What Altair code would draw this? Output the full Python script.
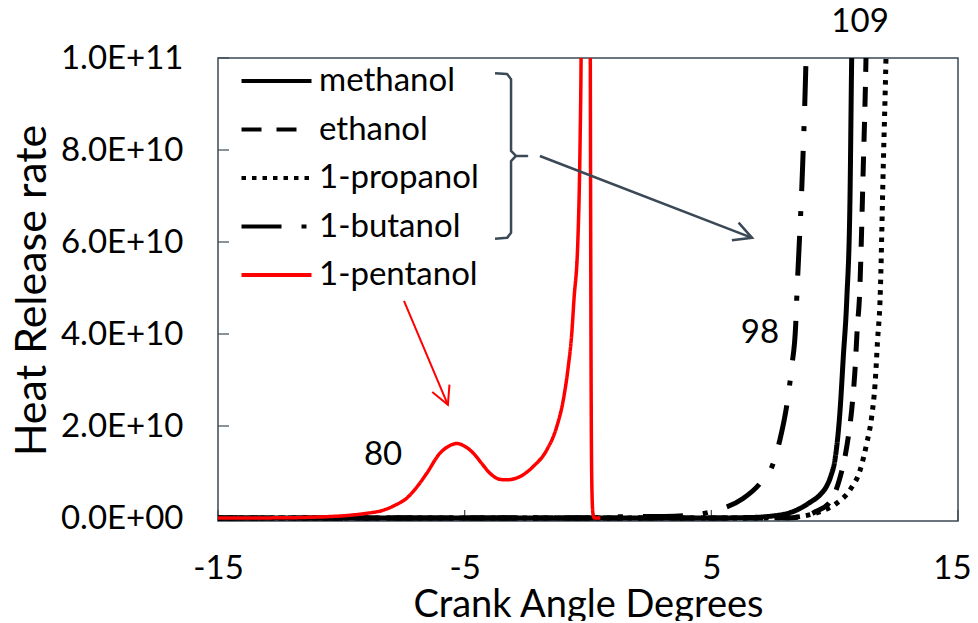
import altair as alt
import pandas as pd

FONT = "Lato"
FRAME = "#3b4856"
W, H = 740, 463

# ---------------- data ----------------
series_names = ["methanol", "ethanol", "1-propanol", "1-butanol", "1-pentanol"]
series_colors = ["#000000", "#000000", "#000000", "#000000", "#ff0000"]
series_dashes = [[1, 0], [20, 15], [4.5, 6], [40, 20, 5, 20], [1, 0]]

methanol_ca = [-15, 0, 5, 6.5, 7.24, 8.32, 8.7, 9.0, 9.4, 9.68, 9.85, 10.01, 10.22, 10.35, 10.49, 10.62, 10.69, 10.76]
methanol_hrr_e10 = [0, 0, 0, 0.01, 0.03, 0.14, 0.24, 0.34, 0.5, 0.7, 0.92, 1.26, 2.35, 3.5, 4.74, 6.9, 10.0, 12.0]

ethanol_ca = [-15, 0, 5, 8.0, 8.73, 9.27, 9.81, 10.19, 10.49, 10.69, 10.82, 10.92, 11.0, 11.16, 11.27, 11.33]
ethanol_hrr_e10 = [0, 0, 0, 0.005, 0.03, 0.15, 0.35, 0.83, 1.55, 2.35, 3.18, 4.16, 4.74, 7.64, 10.0, 12.0]

propanol_ca = [-15, 0, 5, 8.0, 8.6, 9.41, 10.08, 10.62, 11.03, 11.3, 11.5, 11.64, 11.74, 11.84, 11.97, 12.08, 12.15]
propanol_hrr_e10 = [0, 0, 0, 0.005, 0.03, 0.14, 0.32, 0.61, 1.04, 1.62, 2.2, 2.93, 3.87, 4.74, 7.64, 10.0, 12.0]

butanol_ca = [-15, 0, 0.5, 1.5, 3.5, 4.5, 5.22, 6.3, 6.97, 7.51, 7.78, 8.05, 8.26, 8.42, 8.46, 8.7, 8.84, 8.92]
butanol_hrr_e10 = [0, 0, 0.01, 0.03, 0.04, 0.08, 0.17, 0.43, 0.75, 1.19, 1.7, 2.42, 3.29, 4.2, 4.74, 7.64, 10.0, 12.0]

pentanol_ca = [-15, -12, -11.68, -10.5, -9.65, -9.0, -8.3, -7.85, -7.35, -6.9, -6.54, -6.0, -5.65,
               -5.32, -5.0, -4.65, -4.3, -3.97, -3.57, -3.3, -2.76, -2.22, -1.67, -1.27, -1.0,
               -0.8, -0.66, -0.57, -0.41, -0.32, -0.28, -0.2, -0.05, 0.03, 0.08, 0.11, 0.13,
               0.16, 0.2, 0.26, 0.5]
pentanol_hrr_e10 = [0, 0.005, 0.01, 0.03, 0.06, 0.1, 0.17, 0.27, 0.43, 0.7, 0.97, 1.41, 1.56,
                    1.62, 1.56, 1.41, 1.18, 0.97, 0.84, 0.83, 0.9, 1.12, 1.48, 1.98, 2.57,
                    3.29, 4.0, 4.74, 6.04, 8.2, 10.0, 20.0, 45.0, 35.0, 14.0, 6.0, 2.5,
                    0.6, 0.1, 0, 0]

x_tick_values = [-15, -5, 5, 15]
x_tick_labels = ["-15", "-5", "5", "15"]
y_tick_values = [0, 2e10, 4e10, 6e10, 8e10, 1e11]
y_tick_labels = ["0.0E+00", "2.0E+10", "4.0E+10", "6.0E+10", "8.0E+10", "1.0E+11"]

# annotations (data coordinates)
annot_labels = ["109", "98", "80"]
annot_ca = [11.03, 6.97, -8.31]
annot_hrr_e10 = [10.78, 4.02, 1.37]

bracket_ca = [-3.77, -3.28, -3.12, -3.12, -2.92, -2.47, -2.92, -3.12, -3.12, -3.28, -3.77]
bracket_hrr_e10 = [9.67, 9.65, 9.54, 7.98, 7.87, 7.87, 7.87, 7.76, 6.20, 6.09, 6.07]

arrow_dark_ca = [-1.95, 6.65]
arrow_dark_hrr_e10 = [7.87, 6.09]
arrow_red_ca = [-7.46, -5.68]
arrow_red_hrr_e10 = [4.72, 2.46]

# ---------------- tables ----------------
rows = []
for name, cas, vals in zip(series_names,
                           [methanol_ca, ethanol_ca, propanol_ca, butanol_ca, pentanol_ca],
                           [methanol_hrr_e10, ethanol_hrr_e10, propanol_hrr_e10, butanol_hrr_e10, pentanol_hrr_e10]):
    for i, (c, v) in enumerate(zip(cas, vals)):
        rows.append({"fuel": name, "ca": c, "hrr": v * 1e10, "i": i})
df = pd.DataFrame(rows)

annot_df = pd.DataFrame({"ca": annot_ca, "hrr": [v * 1e10 for v in annot_hrr_e10], "label": annot_labels})
bracket_df = pd.DataFrame({"ca": bracket_ca, "hrr": [v * 1e10 for v in bracket_hrr_e10],
                           "i": list(range(len(bracket_ca)))})
arrow_dark_df = pd.DataFrame({"ca": arrow_dark_ca, "hrr": [v * 1e10 for v in arrow_dark_hrr_e10]})
arrow_red_df = pd.DataFrame({"ca": arrow_red_ca, "hrr": [v * 1e10 for v in arrow_red_hrr_e10]})
xtick_df = pd.DataFrame({"ca": x_tick_values})
ytick_df = pd.DataFrame({"hrr": y_tick_values})


def label_expr(values, labels):
    parts = [f"datum.value == {v:.0f} ? '{l}'" for v, l in zip(values, labels)]
    return " : ".join(parts) + " : ''"


x_scale = alt.Scale(domain=[-15, 15], nice=False, zero=False)
y_scale = alt.Scale(domain=[-6.52e8, 1e11], nice=False, zero=False)

x_axis = alt.Axis(values=x_tick_values, labelExpr=label_expr(x_tick_values, x_tick_labels),
                  title="Crank Angle Degrees", grid=False, ticks=False, tickSize=0, domain=False,
                  labelFont=FONT, labelFontSize=33, labelColor="black", labelPadding=57,
                  labelBaseline="alphabetic", labelFlush=False, labelOverlap=False,
                  labelOffset={"condition": {"test": f"datum.value == {x_tick_values[-1]}", "value": -6},
                               "value": 0},
                  titleFont=FONT, titleFontSize=38, titleFontWeight="normal", titleColor="black",
                  titleBaseline="alphabetic", titleY=95)
y_axis = alt.Axis(values=y_tick_values, labelExpr=label_expr(y_tick_values, y_tick_labels),
                  title="Heat Release rate", grid=False, ticks=False, tickSize=0, domain=False,
                  labelFont=FONT, labelFontSize=33, labelColor="black", labelPadding=35,
                  labelBaseline="middle", labelFlush=False, labelOverlap=False,
                  titleFont=FONT, titleFontSize=43, titleFontWeight="normal", titleColor="black",
                  titleBaseline="alphabetic", titleX=-173, titleY=232)


def X():
    return alt.X("ca:Q", scale=x_scale, axis=x_axis)


def Y():
    return alt.Y("hrr:Q", scale=y_scale, axis=y_axis)


legend = alt.Legend(title=None, orient="none", legendX=42, legendY=6.5,
                    symbolType="M-3.5,0L3.5,0", symbolSize=400, symbolStrokeWidth=4,
                    labelFont=FONT, labelFontSize=33, labelColor="black", labelOffset=26,
                    rowPadding=14.5, padding=0)

color_enc = alt.Color("fuel:N", scale=alt.Scale(domain=series_names, range=series_colors), legend=legend)
dash_enc = alt.StrokeDash("fuel:N", scale=alt.Scale(domain=series_names, range=series_dashes), legend=legend)

black_lines = alt.Chart(df).transform_filter(
    alt.FieldOneOfPredicate(field="fuel", oneOf=series_names[:4])
).mark_line(strokeWidth=5, clip=True, strokeJoin="round", interpolate="monotone").encode(
    x=X(), y=Y(), color=color_enc, strokeDash=dash_enc, order="i:Q"
)
red_line = alt.Chart(df).transform_filter(
    alt.FieldEqualPredicate(field="fuel", equal=series_names[4])
).mark_line(strokeWidth=3.5, clip=True, strokeJoin="round", interpolate="monotone").encode(
    x=X(), y=Y(), color=color_enc, strokeDash=dash_enc, order="i:Q"
)

xticks = alt.Chart(xtick_df).mark_rule(color=FRAME, strokeWidth=1.2).encode(
    x=X(), y=alt.value(H), y2=alt.value(H - 11))
yticks = alt.Chart(ytick_df).mark_rule(color=FRAME, strokeWidth=1.2).encode(
    y=Y(), x=alt.value(0), x2=alt.value(11))

annots = alt.Chart(annot_df).mark_text(font=FONT, fontSize=33, color="black", align="center",
                                       baseline="middle").encode(x=X(), y=Y(), text="label:N")

bracket = alt.Chart(bracket_df).mark_line(color=FRAME, strokeWidth=2.5, strokeJoin="round").encode(
    x=X(), y=Y(), order="i:Q")

arrow_dark = alt.Chart(arrow_dark_df).mark_line(color=FRAME, strokeWidth=2.5).encode(x=X(), y=Y())
arrow_dark_head = alt.Chart(arrow_dark_df.tail(1)).mark_point(
    shape="M-1,-0.52L0,0L-1,0.52", filled=False, size=1296, strokeWidth=2.5, color=FRAME,
    angle=21, opacity=1).encode(x=X(), y=Y())
arrow_red = alt.Chart(arrow_red_df).mark_line(color="#ff0000", strokeWidth=2).encode(x=X(), y=Y())
arrow_red_head = alt.Chart(arrow_red_df.tail(1)).mark_point(
    shape="M-1,-0.52L0,0L-1,0.52", filled=False, size=1296, strokeWidth=2, color="#ff0000",
    angle=67, opacity=1).encode(x=X(), y=Y())

chart = alt.layer(
    xticks, yticks, black_lines, red_line, bracket, arrow_dark, arrow_dark_head,
    arrow_red, arrow_red_head, annots
).properties(
    width=W, height=H,
    padding={"left": 210, "top": 50, "right": 12, "bottom": 100},
    autosize=alt.AutoSizeParams(type="none"),
    background="white",
).configure_view(stroke=FRAME, strokeWidth=1.5)

chart.save("out.html", embed_options={"renderer": "svg", "actions": False})
